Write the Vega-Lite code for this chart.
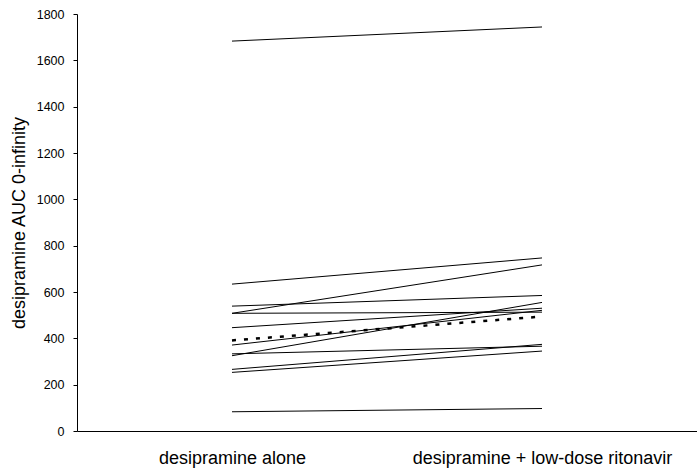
{
  "$schema": "https://vega.github.io/schema/vega-lite/v6.json",
  "width": 620,
  "height": 417,
  "autosize": {"type": "none"},
  "padding": {"left": 77, "top": 14, "right": 0, "bottom": 39},
  "background": "white",
  "config": {
    "view": {"stroke": null},
    "font": "Liberation Sans",
    "axis": {"grid": false, "domainColor": "#000", "tickColor": "#000", "labelColor": "#000", "titleColor": "#000", "labelFont": "Liberation Sans", "titleFont": "Liberation Sans", "titleFontWeight": "normal"}
  },
  "data": {
    "values": [
      {"subject": "S01", "period": "desipramine alone", "auc": 1683},
      {"subject": "S01", "period": "desipramine + low-dose ritonavir", "auc": 1744},
      {"subject": "S02", "period": "desipramine alone", "auc": 634},
      {"subject": "S02", "period": "desipramine + low-dose ritonavir", "auc": 747},
      {"subject": "S03", "period": "desipramine alone", "auc": 508},
      {"subject": "S03", "period": "desipramine + low-dose ritonavir", "auc": 717},
      {"subject": "S04", "period": "desipramine alone", "auc": 539},
      {"subject": "S04", "period": "desipramine + low-dose ritonavir", "auc": 585},
      {"subject": "S05", "period": "desipramine alone", "auc": 508},
      {"subject": "S05", "period": "desipramine + low-dose ritonavir", "auc": 513},
      {"subject": "S06", "period": "desipramine alone", "auc": 446},
      {"subject": "S06", "period": "desipramine + low-dose ritonavir", "auc": 530},
      {"subject": "S07", "period": "desipramine alone", "auc": 371},
      {"subject": "S07", "period": "desipramine + low-dose ritonavir", "auc": 521},
      {"subject": "S08", "period": "desipramine alone", "auc": 325},
      {"subject": "S08", "period": "desipramine + low-dose ritonavir", "auc": 555},
      {"subject": "S09", "period": "desipramine alone", "auc": 333},
      {"subject": "S09", "period": "desipramine + low-dose ritonavir", "auc": 366},
      {"subject": "S10", "period": "desipramine alone", "auc": 266},
      {"subject": "S10", "period": "desipramine + low-dose ritonavir", "auc": 374},
      {"subject": "S11", "period": "desipramine alone", "auc": 253},
      {"subject": "S11", "period": "desipramine + low-dose ritonavir", "auc": 345},
      {"subject": "S12", "period": "desipramine alone", "auc": 83},
      {"subject": "S12", "period": "desipramine + low-dose ritonavir", "auc": 97},
      {"subject": "Mean", "period": "desipramine alone", "auc": 391},
      {"subject": "Mean", "period": "desipramine + low-dose ritonavir", "auc": 494}
    ]
  },
  "encoding": {
    "x": {
      "field": "period",
      "type": "nominal",
      "sort": ["desipramine alone", "desipramine + low-dose ritonavir"],
      "scale": {"type": "point", "padding": 0.5},
      "axis": {"title": null, "labelAngle": 0, "ticks": false, "labelPadding": 18, "labelFontSize": 18, "labelLimit": 0}
    },
    "y": {
      "field": "auc",
      "type": "quantitative",
      "scale": {"domain": [0, 1800], "nice": false},
      "axis": {"title": "desipramine AUC 0-infinity", "format": "d", "values": [0, 200, 400, 600, 800, 1000, 1200, 1400, 1600, 1800], "tickSize": 4, "labelPadding": 9, "labelFontSize": 12.5, "titleFontSize": 18, "titlePadding": 8}
    },
    "detail": {"field": "subject"}
  },
  "layer": [
    {
      "transform": [{"filter": "datum.subject !== 'Mean'"}],
      "mark": {"type": "line", "color": "#000", "strokeWidth": 1}
    },
    {
      "transform": [{"filter": "datum.subject === 'Mean'"}],
      "mark": {"type": "line", "color": "#000", "strokeWidth": 2.5, "strokeDash": [4, 8]}
    }
  ]
}
